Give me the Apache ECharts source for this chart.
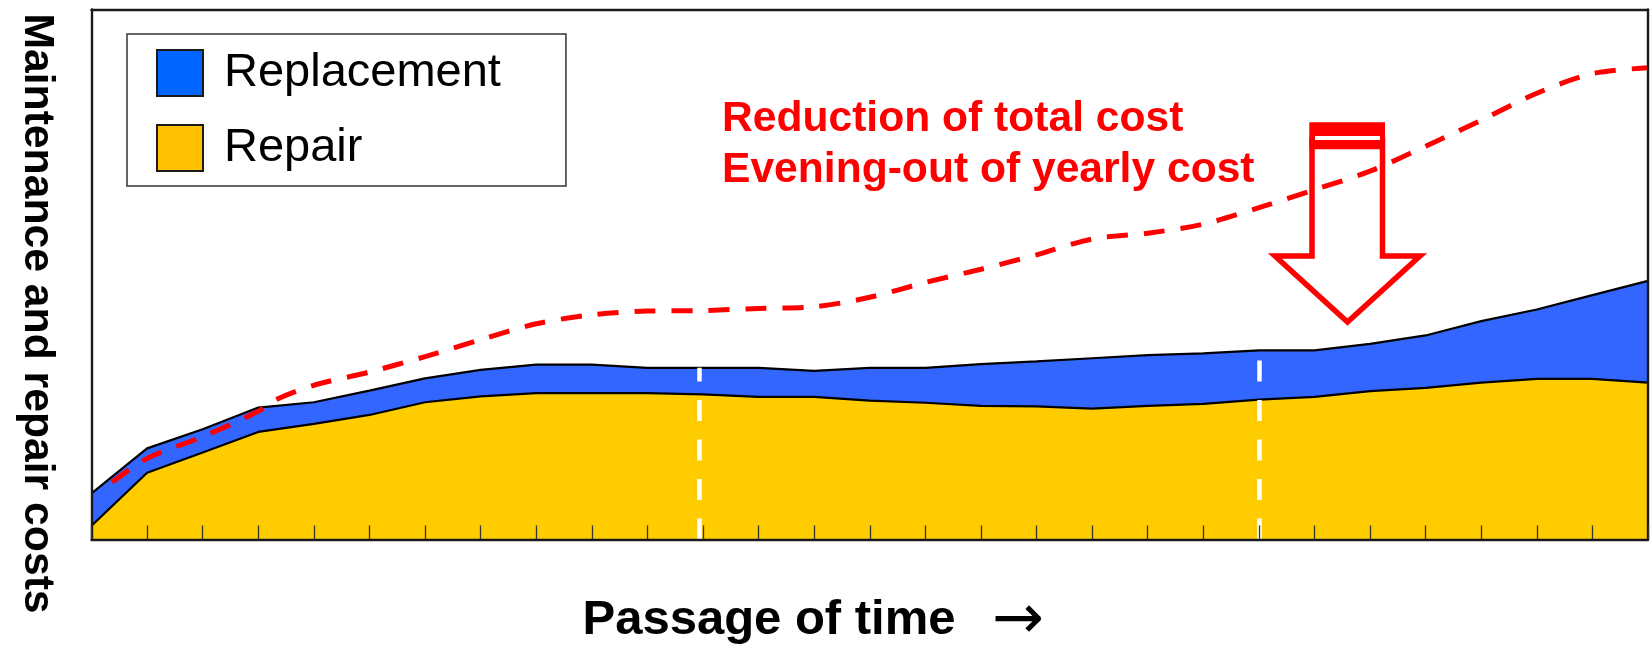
<!DOCTYPE html>
<html>
<head>
<meta charset="utf-8">
<title>Maintenance and repair costs</title>
<script src="https://cdn.jsdelivr.net/npm/echarts@6/dist/echarts.min.js"></script>
<style>
  html, body { margin: 0; padding: 0; background: #fff; }
  #chart { width: 1652px; height: 651px; }
</style>
</head>
<body>
<div id="chart"></div>
<script>
// time steps along the x axis (one tick each)
const years = [0, 1, 2, 3, 4, 5, 6, 7, 8, 9, 10, 11, 12, 13, 14, 15, 16, 17, 18, 19, 20, 21, 22, 23, 24, 25, 26, 27, 28];

// stacked areas (0 = axis bottom, 100 = frame top)
const repairCost = [2.6, 12.6, 16.4, 20.3, 21.8, 23.5, 25.9, 27.0, 27.6, 27.6, 27.6, 27.4, 26.9, 26.9, 26.2, 25.8, 25.2, 25.1, 24.7, 25.2, 25.6, 26.4, 26.9, 28.0, 28.6, 29.6, 30.3, 30.3, 29.6];
const replacementCost = [6.1, 4.6, 4.4, 4.6, 4.1, 4.6, 4.5, 5.0, 5.4, 5.4, 4.8, 5.0, 5.5, 4.9, 6.2, 6.6, 7.9, 8.5, 9.5, 9.6, 9.5, 9.3, 8.8, 8.9, 9.9, 11.6, 13.1, 15.8, 19.2];

// red dashed line (cost without planned maintenance)
const totalCostX = [0.37, 1, 2, 3, 3.3, 4, 5, 6, 7, 8, 9, 10, 11, 12, 13, 14, 15, 16, 17, 18, 19, 20, 21, 22, 23, 24, 25, 26, 27, 28];
const totalCostY = [10.8, 15.3, 19.4, 24.2, 26.3, 29.1, 31.6, 34.5, 37.7, 40.7, 42.4, 43.1, 43.2, 43.6, 43.9, 45.7, 48.5, 51.0, 53.7, 56.7, 57.8, 59.5, 62.6, 66.0, 69.5, 74.2, 79.1, 84.2, 87.9, 89.0];

// white dashed dividers
const dividers = [10.93, 21];

const FONT = '"Liberation Sans", Arial, sans-serif';
const stackTop = years.map(i => repairCost[i] + replacementCost[i]);

let myChart = echarts.init(document.getElementById('chart'));

myChart.setOption({
  animation: false,
  grid: { left: 91.5, right: 4, top: 9.5, bottom: 111.5 },
  xAxis: [
    {
      type: 'value', min: 0, max: 28, interval: 1, z: 10,
      axisLine: { show: true, onZero: false, lineStyle: { color: '#1a1a1a', width: 2.4 } },
      axisTick: { show: true, inside: true, length: 14, lineStyle: { color: '#333', width: 1.3 } },
      axisLabel: { show: false },
      splitLine: { show: false }
    },
    {
      type: 'value', min: 0, max: 28, position: 'top', z: 10,
      axisLine: { show: true, onZero: false, lineStyle: { color: '#1a1a1a', width: 2.4 } },
      axisTick: { show: false }, axisLabel: { show: false }, splitLine: { show: false }
    }
  ],
  yAxis: [
    {
      type: 'value', min: 0, max: 100, z: 10,
      axisLine: { show: true, onZero: false, lineStyle: { color: '#1a1a1a', width: 2.4 } },
      axisTick: { show: false }, axisLabel: { show: false }, splitLine: { show: false }
    },
    {
      type: 'value', min: 0, max: 100, position: 'right', z: 10,
      axisLine: { show: true, onZero: false, lineStyle: { color: '#1a1a1a', width: 2.4 } },
      axisTick: { show: false }, axisLabel: { show: false }, splitLine: { show: false }
    }
  ],
  legend: {
    data: [
      { name: 'Replacement', itemStyle: { color: '#0066FF', borderColor: '#1a1a1a', borderWidth: 2 } },
      { name: 'Repair', itemStyle: { color: '#FFC000', borderColor: '#1a1a1a', borderWidth: 2 } }
    ],
    orient: 'vertical',
    left: 127,
    top: 34,
    icon: 'rect',
    itemWidth: 46,
    itemHeight: 46,
    itemGap: 27,
    padding: [15, 65, 14, 29],
    borderColor: '#333',
    borderWidth: 1.5,
    backgroundColor: '#fff',
    selectedMode: false,
    textStyle: { fontSize: 47, fontFamily: FONT, color: '#000', padding: [0, 0, 0, 16] }
  },
  series: [
    {
      name: 'Replacement',
      type: 'line',
      z: 2,
      symbol: 'none',
      data: years.map(i => [i, stackTop[i]]),
      lineStyle: { color: '#000', width: 2.2 },
      itemStyle: { color: '#3366FF' },
      areaStyle: { color: '#3366FF', opacity: 1 }
    },
    {
      name: 'Repair',
      type: 'line',
      z: 3,
      symbol: 'none',
      data: years.map(i => [i, repairCost[i]]),
      lineStyle: { color: '#000', width: 2.2 },
      itemStyle: { color: '#FFCC00' },
      areaStyle: { color: '#FFCC00', opacity: 1 },
      markLine: {
        silent: true,
        symbol: 'none',
        label: { show: false },
        lineStyle: { color: '#fff', width: 4.5, type: [21, 18.5] },
        data: dividers.map(x => [
          { coord: [x, 0] },
          { coord: [x, stackTop[Math.round(x)]] }
        ])
      }
    },
    {
      name: 'Total cost',
      type: 'line',
      z: 6,
      symbol: 'none',
      smooth: 0.3,
      data: totalCostX.map((x, i) => [x, totalCostY[i]]),
      lineStyle: { color: '#FF0000', width: 5, type: [21, 16] }
    }
  ],
  graphic: [
    {
      type: 'text', x: 37, y: 313.5, rotation: -Math.PI / 2, z: 100,
      style: {
        text: 'Maintenance and repair costs', fill: '#000',
        fontSize: 42.7, fontWeight: 'bold', fontFamily: FONT,
        align: 'center', verticalAlign: 'middle'
      }
    },
    {
      type: 'text', x: 769, y: 620, z: 100,
      style: {
        text: 'Passage of time', fill: '#000',
        fontSize: 49, fontWeight: 'bold', fontFamily: FONT,
        align: 'center', verticalAlign: 'middle'
      }
    },
    {
      type: 'text', x: 1018, y: 622, z: 100,
      style: {
        text: '\u2192', fill: '#000',
        fontSize: 62, fontFamily: '"DejaVu Sans", sans-serif',
        align: 'center', verticalAlign: 'middle'
      }
    },
    {
      type: 'text', x: 722, y: 119.5, z: 100,
      style: {
        text: 'Reduction of total cost', fill: '#FF0000',
        fontSize: 42.6, fontWeight: 'bold', fontFamily: FONT,
        align: 'left', verticalAlign: 'middle'
      }
    },
    {
      type: 'text', x: 722, y: 170, z: 100,
      style: {
        text: 'Evening-out of yearly cost', fill: '#FF0000',
        fontSize: 42.6, fontWeight: 'bold', fontFamily: FONT,
        align: 'left', verticalAlign: 'middle'
      }
    },
    // hollow down arrow
    {
      type: 'polygon', z: 100,
      shape: { points: [[1312, 140], [1382.5, 140], [1382.5, 256], [1420, 256], [1347.5, 322], [1275, 256], [1312, 256]] },
      style: { fill: 'none', stroke: '#FF0000', lineWidth: 5.5, lineJoin: 'miter' }
    },
    {
      type: 'rect', z: 101,
      shape: { x: 1309.3, y: 122.3, width: 75.7, height: 27 },
      style: { fill: '#FF0000' }
    },
    {
      type: 'rect', z: 102,
      shape: { x: 1315, y: 136, width: 65, height: 4 },
      style: { fill: '#fff' }
    }
  ]
});
</script>
</body>
</html>
